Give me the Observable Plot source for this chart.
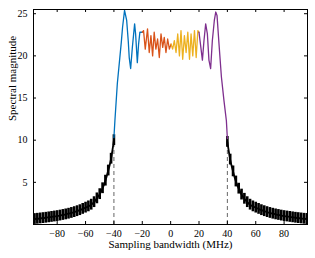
<!DOCTYPE html>
<html><head><meta charset="utf-8">
<script src="https://cdn.jsdelivr.net/npm/d3@7"></script>
<script src="https://cdn.jsdelivr.net/npm/@observablehq/plot@0.6"></script>
<style>
body{margin:0;background:#fff}
svg, svg text{font-family:"Liberation Serif", serif !important;}
</style>
</head><body><div id="chart"></div>
<script>
const xTicks = [-80, -60, -40, -20, 0, 20, 40, 60, 80];
const yTicks = [5, 10, 15, 20, 25];
const bandEdges = [-40, 40];
const bandEdgeTop = 10;

const leftTailX = [-96,-94,-92,-90,-88,-86,-84,-82,-80,-78,-76,-74,-72,-70,-68,-66,-64,-62,-60,-58,-56,-54,-52,-50,-48,-46,-44,-42,-40];
const leftTailY = [0.65,0.68,0.72,0.76,0.8,0.85,0.9,0.95,1.0,1.06,1.13,1.2,1.28,1.37,1.47,1.58,1.7,1.85,2.0,2.15,2.35,2.65,3.1,3.6,4.3,5.2,6.4,7.8,10.0];
const rightTailX = [40,42,44,46,48,50,52,54,56,58,60,62,64,66,68,70,72,74,76,78,80,82,84,86,88,90,92,94,96];
const rightTailY = [9.8,7.7,6.3,5.1,4.25,3.55,3.05,2.65,2.35,2.15,2.0,1.85,1.7,1.58,1.47,1.37,1.28,1.2,1.13,1.06,1.0,0.95,0.9,0.85,0.8,0.76,0.72,0.68,0.65];

const blueX = [-40,-39.3,-37.6,-36,-34.8,-33.9,-32.5,-31,-29.9,-29.2,-28.2,-27,-25.4,-24.7,-23.5,-22.6,-21.7,-20];
const blueY = [10.3,12.3,16.7,19.5,21.6,23.4,25.4,24.2,21.8,19.8,18.5,21,23.8,22.6,19.2,21.4,22.8,22.8];
const orangeX = [-20,-19.1,-17.9,-16.3,-15.1,-13.9,-12.7,-11.6,-10.4,-9.2,-8.0,-6.8,-5.6,-4.5,-3.3,-2.1,-0.9,0.3];
const orangeY = [22.8,23.0,20.8,23.2,20.4,22.4,20.0,22.8,20.8,22.0,19.8,22.6,21.0,22.2,20.4,22.0,20.8,21.4];
const yellowX = [0.3,1.4,2.6,3.8,5.0,6.2,7.3,8.5,9.7,10.9,12.1,13.3,14.4,15.6,16.8,18.0,19.2,20];
const yellowY = [21.4,20.8,21.8,20.4,22.6,20.0,23.0,19.6,22.4,20.4,22.8,19.6,22.6,20.0,23.0,19.8,23.0,22.8];
const purpleX = [20,22.4,23.5,24.7,25.9,27,28.2,29.4,30.8,31.8,32.7,34.1,35.8,37.6,39.3,40];
const purpleY = [22.8,19.5,21.8,23.8,22.6,19.5,18.5,21.8,24.2,25.2,24.8,21.4,17.5,14.7,12.3,10.2];

const zip = (xs, ys) => xs.map((x, i) => ({x, y: ys[i]}));
const tails = [zip(leftTailX, leftTailY), zip(rightTailX, rightTailY)];
const segments = [
  {c: "#0072BD", d: zip(blueX, blueY)},
  {c: "#D95319", d: zip(orangeX, orangeY)},
  {c: "#EDB120", d: zip(yellowX, yellowY)},
  {c: "#7E2F8E", d: zip(purpleX, purpleY)}
];

const W = 315, H = 258, mT = 9, mB = 34, mL = 33, mR = 8;
const frameH = H - mT - mB, frameW = W - mL - mR;
const tl = 3;
const markerHalf = 0.64; // half-height of the vertical "|" markers, in y units
const font = "Liberation Serif, serif";

const chart = Plot.plot({
  width: W, height: H,
  marginTop: mT, marginBottom: mB, marginLeft: mL, marginRight: mR,
  style: {fontFamily: font, fontSize: "10px", color: "#000", background: "#fff"},
  x: {domain: [-96.7, 96.5]},
  y: {domain: [0, 25.5]},
  marks: [
    Plot.axisX(xTicks, {tickSize: 0, tickPadding: 5, label: null, fontSize: 10, fontFamily: font}),
    Plot.axisY(yTicks, {tickSize: 0, tickPadding: 6, label: null, fontSize: 10, fontFamily: font}),
    Plot.ruleX(bandEdges, {y1: 0, y2: bandEdgeTop, stroke: "#666", strokeDasharray: "4,3", strokeWidth: 1}),
    ...tails.map(t => Plot.line(t, {x: "x", y: "y", curve: "monotone-x", stroke: "#000", strokeWidth: 1.8, clip: true})),
    ...tails.map(t => Plot.ruleX(t, {x: "x", y1: d => d.y - markerHalf, y2: d => d.y + markerHalf, stroke: "#000", strokeWidth: 2.6, clip: true})),
    ...segments.map(s => Plot.line(s.d, {x: "x", y: "y", stroke: s.c, strokeWidth: 1.3, clip: true})),
    Plot.tickX(xTicks, {x: d => d, insetTop: frameH - tl, stroke: "#000"}),
    Plot.tickX(xTicks, {x: d => d, insetBottom: frameH - tl, stroke: "#000"}),
    Plot.tickY(yTicks, {y: d => d, insetRight: frameW - tl, stroke: "#000"}),
    Plot.tickY(yTicks, {y: d => d, insetLeft: frameW - tl, stroke: "#000"}),
    Plot.frame({stroke: "#000", strokeWidth: 1}),
    Plot.text(["Spectral magnitude"], {frameAnchor: "left", dx: -21, dy: 4, rotate: -90, fontSize: 11, fontFamily: font, fill: "#000"}),
    Plot.text(["Sampling bandwidth (MHz)"], {frameAnchor: "bottom", dy: 23, fontSize: 11, fontFamily: font, fill: "#000"})
  ]
});
document.getElementById("chart").appendChild(chart);
</script>
</body></html>
